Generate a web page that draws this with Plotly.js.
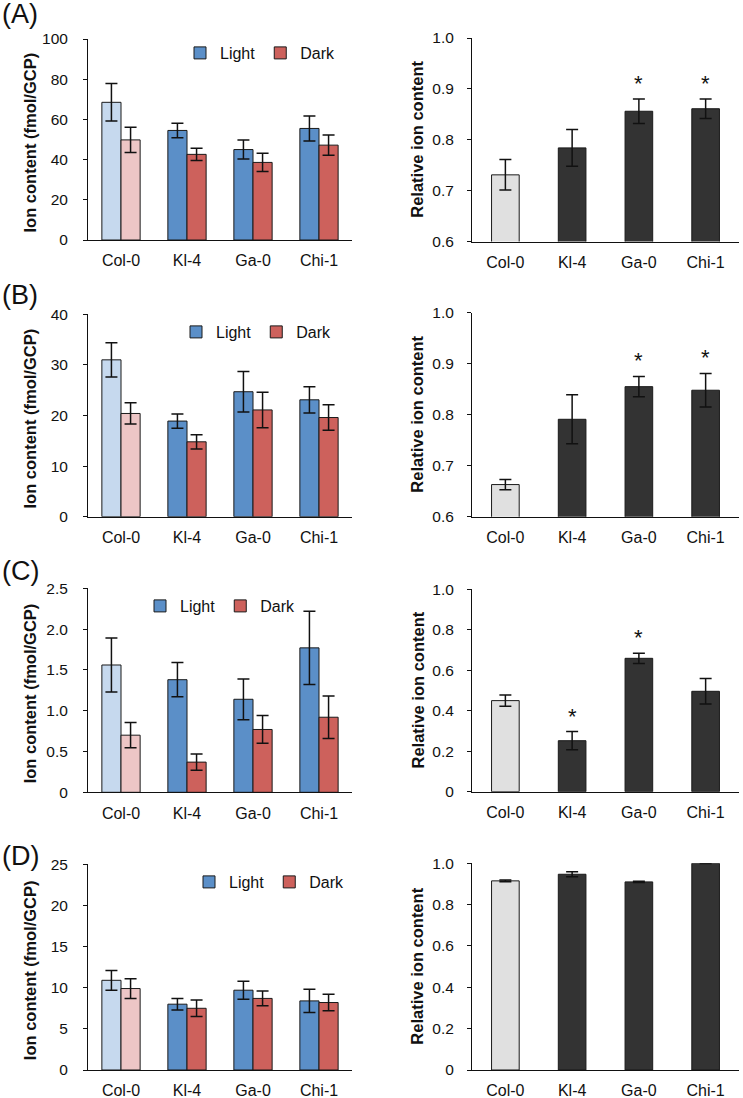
<!DOCTYPE html>
<html>
<head>
<meta charset="utf-8">
<script src="https://cdn.plot.ly/plotly-3.0.1.min.js"></script>
<style>
  html, body { margin: 0; padding: 0; background: #ffffff; }
  #chart { width: 743px; height: 1098px; }
</style>
</head>
<body>
<div id="chart"></div>
<script>
// ---------------- DATA ----------------
const categories = ['Col-0', 'Kl-4', 'Ga-0', 'Chi-1'];
const seriesNames = ['Light', 'Dark'];

// Panel A
const lightA    = [68.5, 54.5, 45.0, 55.5];
const lightAErr = [9.3, 3.6, 4.7, 6.2];
const darkA     = [49.8, 42.6, 38.6, 47.2];
const darkAErr  = [6.3, 3.0, 4.5, 5.0];
const relA      = [0.731, 0.784, 0.856, 0.861];
const relAErr   = [0.030, 0.036, 0.024, 0.019];
const sigA      = [false, false, true, true];

// Panel B
const lightB    = [31.0, 18.9, 24.7, 23.1];
const lightBErr = [3.4, 1.4, 4.0, 2.6];
const darkB     = [20.4, 14.8, 21.1, 19.6];
const darkBErr  = [2.1, 1.4, 3.5, 2.5];
const relB      = [0.663, 0.791, 0.855, 0.848];
const relBErr   = [0.010, 0.048, 0.020, 0.033];
const sigB      = [false, false, true, true];

// Panel C
const lightC    = [1.56, 1.38, 1.14, 1.77];
const lightCErr = [0.33, 0.21, 0.25, 0.45];
const darkC     = [0.70, 0.37, 0.77, 0.92];
const darkCErr  = [0.155, 0.10, 0.17, 0.26];
const relC      = [0.450, 0.252, 0.659, 0.496];
const relCErr   = [0.028, 0.045, 0.025, 0.063];
const sigC      = [false, true, true, false];

// Panel D
const lightD    = [10.9, 8.0, 9.7, 8.4];
const lightDErr = [1.2, 0.7, 1.1, 1.4];
const darkD     = [9.9, 7.5, 8.7, 8.2];
const darkDErr  = [1.2, 1.0, 0.9, 1.0];
const relD      = [0.915, 0.947, 0.910, 1.0];
const relDErr   = [0.004, 0.012, 0.003, 0.001];
const sigD      = [false, false, false, false];

// Tick labels
const ticksA_L = ['0', '20', '40', '60', '80', '100'];
const ticksB_L = ['0', '10', '20', '30', '40'];
const ticksC_L = ['0', '0.5', '1.0', '1.5', '2.0', '2.5'];
const ticksD_L = ['0', '5', '10', '15', '20', '25'];
const ticksAB_R = ['0.6', '0.7', '0.8', '0.9', '1.0'];
const ticksCD_R = ['0', '0.2', '0.4', '0.6', '0.8', '1.0'];

const panelLabels = ['(A)', '(B)', '(C)', '(D)'];
const yTitleLeft = 'Ion content (fmol/GCP)';
const yTitleRight = 'Relative ion content';

// ---------------- STYLE / LAYOUT ----------------
const W = 743, H = 1098;
const FONT = 'Liberation Sans, Arial, sans-serif';
const colors = {
  lightCtrl: '#C6D9EE', light: '#5B8FC8',
  darkCtrl: '#EDC6C6', dark: '#CD615C',
  relCtrl: '#E0E0E0', rel: '#333333'
};

const panels = [
  { light: lightA, lightErr: lightAErr, dark: darkA, darkErr: darkAErr, rel: relA, relErr: relAErr, sig: sigA,
    ticksL: ticksA_L, ticksR: ticksAB_R, yL: [39, 240], yR: [38, 241.5], legendPx: [180, 53], labelY: 14 },
  { light: lightB, lightErr: lightBErr, dark: darkB, darkErr: darkBErr, rel: relB, relErr: relBErr, sig: sigB,
    ticksL: ticksB_L, ticksR: ticksAB_R, yL: [314.3, 516.7], yR: [312.7, 516.7], legendPx: [176, 332], labelY: 295 },
  { light: lightC, lightErr: lightCErr, dark: darkC, darkErr: darkCErr, rel: relC, relErr: relCErr, sig: sigC,
    ticksL: ticksC_L, ticksR: ticksCD_R, yL: [588.3, 792.3], yR: [589.3, 791.7], legendPx: [140, 606], labelY: 571 },
  { light: lightD, lightErr: lightDErr, dark: darkD, darkErr: darkDErr, rel: relD, relErr: relDErr, sig: sigD,
    ticksL: ticksD_L, ticksR: ticksCD_R, yL: [864.3, 1070], yR: [863.3, 1070], legendPx: [189, 882], labelY: 856 }
];

const xL = [88 / W, 352 / W];
const xR = [472 / W, 739 / W];
const yDom = (px) => [1 - px[1] / H, 1 - px[0] / H];

const traces = [];
const layout = {
  width: W, height: H,
  margin: { l: 0, r: 0, t: 0, b: 0 },
  paper_bgcolor: '#ffffff', plot_bgcolor: 'rgba(0,0,0,0)',
  font: { family: FONT, size: 16, color: '#111111' },
  barmode: 'group',
  bargap: 0.42,
  showlegend: true,
  annotations: []
};

function axisCommon() {
  return {
    showgrid: false, zeroline: false, showline: true, linecolor: '#111111', linewidth: 1,
    tickfont: { family: FONT, size: 16, color: '#111111' }
  };
}

const errStyle = (arr) => ({ type: 'data', array: arr, visible: true, color: '#111111', thickness: 1.5, width: 6 });
const barLine = { color: '#1a1a1a', width: 1 };

panels.forEach((p, i) => {
  const nL = 2 * i + 1, nR = 2 * i + 2;
  const xaL = 'x' + nL, yaL = 'y' + nL, xaR = 'x' + nR, yaR = 'y' + nR;
  const legendKey = i === 0 ? 'legend' : 'legend' + (i + 1);

  // --- left panel: Light / Dark ---
  [['light', 'lightErr', 'lightCtrl', 'light', seriesNames[0]],
   ['dark', 'darkErr', 'darkCtrl', 'dark', seriesNames[1]]].forEach(([vk, ek, cc, mc, name]) => {
    traces.push({
      type: 'bar', xaxis: xaL, yaxis: yaL, offsetgroup: vk, legend: legendKey,
      x: categories.slice(0, 1), y: p[vk].slice(0, 1), name: name, showlegend: false,
      marker: { color: colors[cc], line: barLine },
      error_y: errStyle(p[ek].slice(0, 1)), hoverinfo: 'x+y'
    });
    traces.push({
      type: 'bar', xaxis: xaL, yaxis: yaL, offsetgroup: vk, legend: legendKey,
      x: categories.slice(1), y: p[vk].slice(1), name: name, showlegend: true,
      marker: { color: colors[mc], line: barLine },
      error_y: errStyle(p[ek].slice(1)), hoverinfo: 'x+y'
    });
  });

  // --- right panel: relative ---
  traces.push({
    type: 'bar', xaxis: xaR, yaxis: yaR, x: categories, y: p.rel, width: 0.414,
    showlegend: false,
    marker: { color: categories.map((c, k) => k === 0 ? colors.relCtrl : colors.rel), line: barLine },
    error_y: errStyle(p.relErr), hoverinfo: 'x+y'
  });

  const tvL = p.ticksL.map(Number), tvR = p.ticksR.map(Number);
  layout['xaxis' + nL] = Object.assign(axisCommon(), {
    domain: xL, anchor: yaL, type: 'category', categoryorder: 'array', categoryarray: categories,
    range: [-0.5, categories.length - 0.5], ticks: '', ticklabelstandoff: 6
  });
  layout['yaxis' + nL] = Object.assign(axisCommon(), {
    domain: yDom(p.yL), anchor: xaL, range: [tvL[0], tvL[tvL.length - 1]],
    tickvals: tvL, ticktext: p.ticksL, ticks: 'outside', ticklen: 4, tickcolor: '#111111',
    ticklabelstandoff: 12, tickfont: { family: FONT, size: 15.5, color: '#111111' }
  });
  layout['xaxis' + nR] = Object.assign(axisCommon(), {
    domain: xR, anchor: yaR, type: 'category', categoryorder: 'array', categoryarray: categories,
    range: [-0.5, categories.length - 0.5], ticks: '', ticklabelstandoff: 6
  });
  layout['yaxis' + nR] = Object.assign(axisCommon(), {
    domain: yDom(p.yR), anchor: xaR, range: [tvR[0], tvR[tvR.length - 1]],
    tickvals: tvR, ticktext: p.ticksR, ticks: 'outside', ticklen: 4, tickcolor: '#111111',
    ticklabelstandoff: 10, tickfont: { family: FONT, size: 15.5, color: '#111111' }
  });

  layout[legendKey] = {
    orientation: 'h', x: p.legendPx[0] / W, y: 1 - p.legendPx[1] / H,
    xanchor: 'left', yanchor: 'middle', bgcolor: 'rgba(0,0,0,0)',
    font: { family: FONT, size: 16, color: '#111111' }, traceorder: 'normal',
    itemclick: false, itemdoubleclick: false
  };

  // y titles
  const cL = (p.yL[0] + p.yL[1]) / 2 + 3, cR = (p.yR[0] + p.yR[1]) / 2;
  layout.annotations.push({
    xref: 'paper', yref: 'paper', x: 30 / W, y: 1 - cL / H, text: '<b>' + yTitleLeft + '</b>',
    textangle: -90, showarrow: false, xanchor: 'center', yanchor: 'middle',
    font: { family: FONT, size: 16.5, color: '#111111' }
  });
  layout.annotations.push({
    xref: 'paper', yref: 'paper', x: 417 / W, y: 1 - cR / H, text: '<b>' + yTitleRight + '</b>',
    textangle: -90, showarrow: false, xanchor: 'center', yanchor: 'middle',
    font: { family: FONT, size: 16.5, color: '#111111' }
  });
  // panel label
  layout.annotations.push({
    xref: 'paper', yref: 'paper', x: 0, y: 1 - p.labelY / H, text: panelLabels[i],
    showarrow: false, xanchor: 'left', yanchor: 'middle',
    font: { family: FONT, size: 27, color: '#111111' }
  });
  // significance asterisks
  p.sig.forEach((s, k) => {
    if (!s) return;
    layout.annotations.push({
      xref: xaR, yref: yaR, x: categories[k], y: p.rel[k] + p.relErr[k], text: '*',
      showarrow: false, xanchor: 'center', yanchor: 'bottom', yshift: 1,
      font: { family: FONT, size: 22, color: '#111111' }
    });
  });
});

Plotly.newPlot('chart', traces, layout, { staticPlot: true, displayModeBar: false });
</script>
</body>
</html>
